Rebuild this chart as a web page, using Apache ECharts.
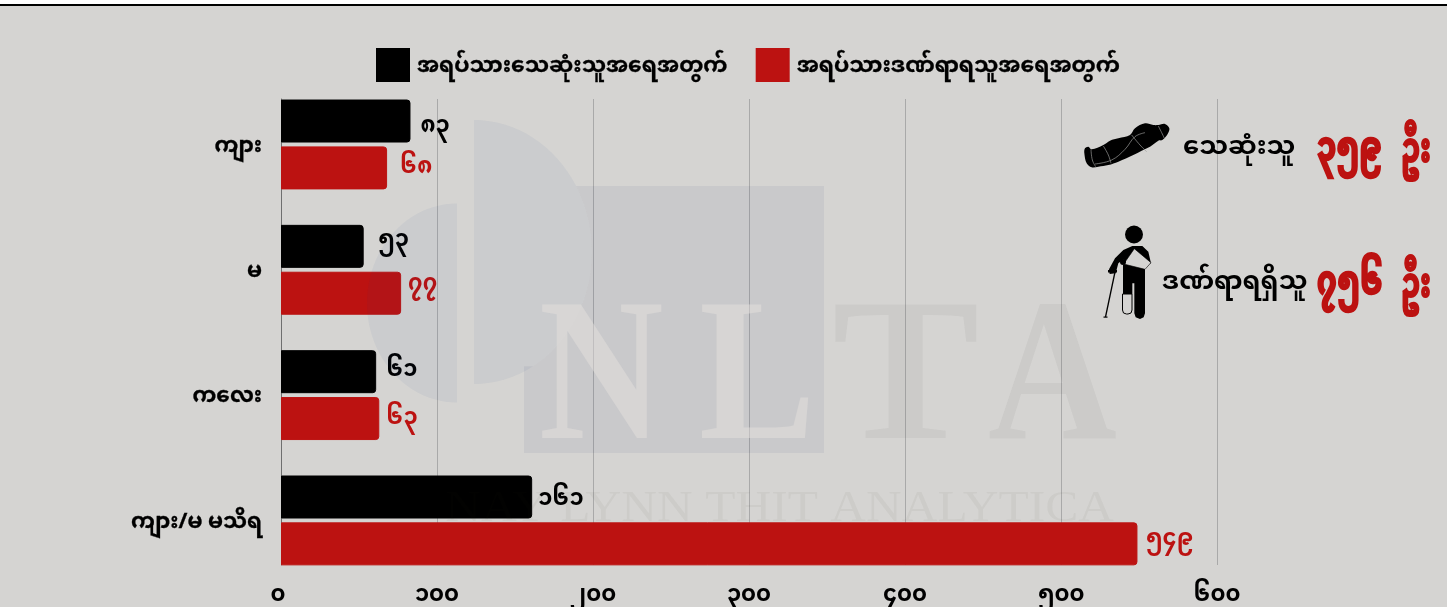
<!DOCTYPE html><html><head><meta charset="utf-8">
<style>html,body{margin:0;padding:0;background:#d5d4d2}#c{width:1447px;height:607px}</style></head><body><div id="c"></div>
<script src="https://cdn.jsdelivr.net/npm/echarts@6/dist/echarts.min.js"></script>
<script>
const categories = ['ကျား', 'မ', 'ကလေး', 'ကျား/မ မသိရ'];
const deadName = 'အရပ်သားသေဆုံးသူအရေအတွက်';
const injuredName = 'အရပ်သားဒဏ်ရာရသူအရေအတွက်';
const deadValues = [83, 53, 61, 161];
const injuredValues = [68, 77, 63, 549];
const tickValues = [0, 100, 200, 300, 400, 500, 600];
const tickLabels = ['၀', '၁၀၀', '၂၀၀', '၃၀၀', '၄၀၀', '၅၀၀', '၆၀၀'];
const deadTotalLabel = 'သေဆုံးသူ', deadTotal = '၃၅၉', unit = 'ဦး';
const injuredTotalLabel = 'ဒဏ်ရာရရှိသူ', injuredTotal = '၇၅၆';
const wmSubtitle = 'NAY LYNN THIT ANALYTICA';

const MY = "'Noto Sans Myanmar','Noto Sans',sans-serif";
const RED = '#bc1211';
const toMy = n => String(n).replace(/\d/g, d => '၀၁၂၃၄၅၆၇၈၉'[d]);
const PLOT_L = 281, PLOT_W = 936;
const chart = echarts.init(document.getElementById('c'), null, {renderer: 'canvas'});

const deadNudge = [[3, 9], [7, -3], [3, 2], [-1, 6]];
const injuredNudge = [[6, 3], [0, -6], [0, 3], [1, -1]];
const barSeries = (name, data, color, nudge) => ({
  name, type: 'bar', xAxisIndex: 0, yAxisIndex: 0,
  data: data.map((value, i) => ({value, label: {offset: nudge[i]}})),
  barWidth: 43, barGap: '9%', z: 3,
  itemStyle: {color, borderColor: color, borderWidth: 1, borderRadius: [0, 3, 3, 0]},
  label: {show: true, position: 'right', distance: 7,
    formatter: p => toMy(p.value), color,
    fontFamily: MY, fontWeight: 700, fontSize: 22.5}
});

const arc = (cx, cy, rx, ry, a0, a1) => {
  const pts = [];
  for (let i = 0; i <= 48; i++) {
    const a = (a0 + (a1 - a0) * i / 48) * Math.PI / 180;
    pts.push([cx + rx * Math.cos(a), cy + ry * Math.sin(a)]);
  }
  return pts;
};
const discA = arc(474, 252, 118, 132, -90, 90);
const discB = arc(457, 303, 90, 99.5, 90, 270);
const insideA = discA.filter(p => p[1] >= 186 && p[0] >= 524 && p[1] <= 367);
const rectPts = [[insideA[0][0], 186], [824, 186], [824, 453], [524, 453], [524, insideA[insideA.length - 1][1]]].concat(insideA.slice().reverse());

const watermarkBlue = 'rgba(13,52,130,0.05)', watermarkRect = 'rgba(0,12,83,0.055)';
const letter = (t, x, sx, fill) => ({type: 'text', x, y: 284, scaleX: sx, z: 20, silent: true,
  style: {text: t, fill, font: "700 203px 'Liberation Serif',serif", verticalAlign: 'top'}});
const bagPts = [[30,115],[40,110],[50,118],[85,105],[105,92],[130,85],[165,75],[180,55],[210,40],[235,45],[250,45],[270,42],[283,55],[278,72],[262,90],[250,92],[225,110],[200,122],[175,135],[130,155],[100,165],[70,170],[50,172],[35,160],[28,130]];
const bagP = a => a.map(p => [1075 + p[0]/3, 110 + p[1]/3]);
const crease = a => ({type: 'polyline', z: 6, silent: true, shape: {points: bagP(a), smooth: 0.4}, style: {stroke: '#9a9a98', lineWidth: 0.7, fill: null}});
const ppl = a => a.map(p => [1095 + p[0]/3, 220 + p[1]/3]);
const blk = a => ({type: 'polygon', z: 6, silent: true, shape: {points: ppl(a)}, style: {fill: '#000'}});
const lab = (t, x, y) => ({type: 'text', x, y, z: 6, silent: true, style: {text: t, fill: '#000', font: `700 25.8px ${MY}`, verticalAlign: 'middle'}});
const num = (t, x, y, fs, sx, lw) => ({type: 'text', x, y, scaleX: sx, z: 6, silent: true, style: {text: t, fill: RED, stroke: RED, lineWidth: lw, font: `700 ${fs}px ${MY}`, verticalAlign: 'middle'}});

chart.setOption({
  animation: false,
  backgroundColor: '#d5d4d2',
  legend: {left: 371, top: 43, itemWidth: 32, itemHeight: 32, itemGap: 28, icon: 'rect',
    data: [deadName, injuredName],
    formatter: n => `{t|${n}}`,
    textStyle: {rich: {t: {fontFamily: MY, fontWeight: 700, fontSize: 21.8, color: '#000', padding: [10, 0, 0, 3], textBorderColor: '#000', textBorderWidth: 0.3}}}},
  grid: [
    {left: PLOT_L, width: PLOT_W, top: 81.8, height: 501.3, outerBoundsMode: 'none'},
    {left: PLOT_L, width: PLOT_W, top: 99, height: 466, outerBoundsMode: 'none'}
  ],
  xAxis: [
    {type: 'value', gridIndex: 0, min: 0, max: 600, interval: 100,
     axisLine: {show: false}, axisTick: {show: false}, splitLine: {show: false},
     axisLabel: {margin: 4, color: '#000', fontFamily: MY, fontWeight: 700, fontSize: 22.5,
       formatter: v => v === 0 ? `{zero|${tickLabels[0]}}` : tickLabels[tickValues.indexOf(v)],
       rich: {zero: {color: '#000', fontFamily: MY, fontWeight: 700, fontSize: 22.5, padding: [0, 6, 16, 0]}}}},
    {type: 'value', gridIndex: 1, min: 0, max: 600, interval: 100,
     axisLine: {show: false}, axisTick: {show: false}, axisLabel: {show: false},
     splitLine: {show: true, showMinLine: false, lineStyle: {color: '#a9a9a9', width: 1}}}
  ],
  yAxis: [
    {type: 'category', gridIndex: 0, inverse: true, data: categories,
     axisLine: {show: false}, axisTick: {show: false},
     axisLabel: {margin: 19, color: '#000', fontFamily: MY, fontWeight: 700, fontSize: 21.5, verticalAlign: 'top', lineHeight: 10, textBorderColor: '#000', textBorderWidth: 0.3}},
    {type: 'category', gridIndex: 1, inverse: true, data: categories,
     axisLine: {show: true, lineStyle: {color: '#6f6f6f', width: 1}}, axisTick: {show: false}, axisLabel: {show: false}}
  ],
  series: [
    barSeries(deadName, deadValues, '#000000', deadNudge),
    barSeries(injuredName, injuredValues, RED, injuredNudge),
    {type: 'bar', xAxisIndex: 1, yAxisIndex: 1, data: [], silent: true}
  ],
  graphic: {elements: [
    {type: 'rect', z: 30, silent: true, shape: {x: 0, y: 4, width: 1447, height: 2}, style: {fill: '#000'}},
    {type: 'rect', z: 30, silent: true, shape: {x: 0, y: 0, width: 1447, height: 4}, style: {fill: '#fff'}},
    {type: 'polygon', z: 20, silent: true, shape: {points: discA}, style: {fill: watermarkBlue}},
    {type: 'polygon', z: 20, silent: true, shape: {points: discB}, style: {fill: watermarkBlue}},
    {type: 'polygon', z: 20, silent: true, shape: {points: rectPts}, style: {fill: watermarkRect}},
    letter('N', 539, 0.85, 'rgba(232,226,222,0.46)'),
    letter('L', 699, 0.86, 'rgba(232,226,222,0.46)'),
    letter('T', 832, 1.09, 'rgba(40,40,30,0.05)'),
    letter('A', 988, 0.88, 'rgba(40,40,30,0.05)'),
    {type: 'text', x: 1114, y: 487, scaleX: 1.1, z: 20, silent: true,
     style: {text: wmSubtitle, fill: 'rgba(40,40,30,0.045)', font: "45px 'Liberation Serif',serif", align: 'right', verticalAlign: 'top'}},

    {type: 'polygon', z: 6, silent: true, shape: {points: bagP(bagPts), smooth: 0.35}, style: {fill: '#000'}},
    crease([[170,75],[195,105],[215,125]]), crease([[210,68],[180,80],[150,118],[110,150],[60,162]]),
    crease([[85,108],[100,135],[108,160]]), crease([[48,118],[52,150],[62,170]]), crease([[250,48],[262,72],[268,85]]),

    {type: 'circle', z: 6, silent: true, shape: {cx: 1134, cy: 234.5, r: 9}, style: {fill: '#000'}},
    blk([[112,78],[85,90],[60,115],[42,148],[44,162],[62,160],[70,130],[86,118],[86,135],[150,135],[168,130],[160,95],[142,78]]),
    blk([[84,135],[150,135],[150,280],[146,292],[135,297],[122,292],[118,280],[118,190],[112,190],[112,222],[84,222]]),
    {type: 'rect', z: 7, silent: true, shape: {x: 1122.5, y: 294, width: 9.5, height: 20, r: [0, 0, 4, 4]}, style: {fill: '#d5d4d2', stroke: '#000', lineWidth: 1}},
    {type: 'polygon', z: 8, silent: true, shape: {points: ppl([[118,86],[168,128],[150,148],[86,132]])}, style: {fill: '#d5d4d2', stroke: '#000', lineWidth: 0.6}},
    {type: 'circle', z: 9, silent: true, shape: {cx: 1123, cy: 262, r: 3}, style: {fill: '#000'}},
    {type: 'line', z: 6, silent: true, shape: {x1: 1115, y1: 272, x2: 1105.5, y2: 317}, style: {stroke: '#000', lineWidth: 1.3}},
    {type: 'rect', z: 6, silent: true, shape: {x: 1108, y: 270, width: 9, height: 2.5}, style: {fill: '#000'}},
    {type: 'rect', z: 6, silent: true, shape: {x: 1103.5, y: 316.5, width: 4, height: 1.2}, style: {fill: '#000'}},

    lab(deadTotalLabel, 1183, 151),
    lab(injuredTotalLabel, 1162, 286),
    num(deadTotal, 1317, 156, 40, 0.76, 2.5),
    num(injuredTotal, 1317, 290, 40, 0.76, 2.5),
    num(unit, 1401, 158, 41, 0.7, 2),
    num(unit, 1401, 293, 41, 0.7, 2)
  ]}
});
</script></body></html>
